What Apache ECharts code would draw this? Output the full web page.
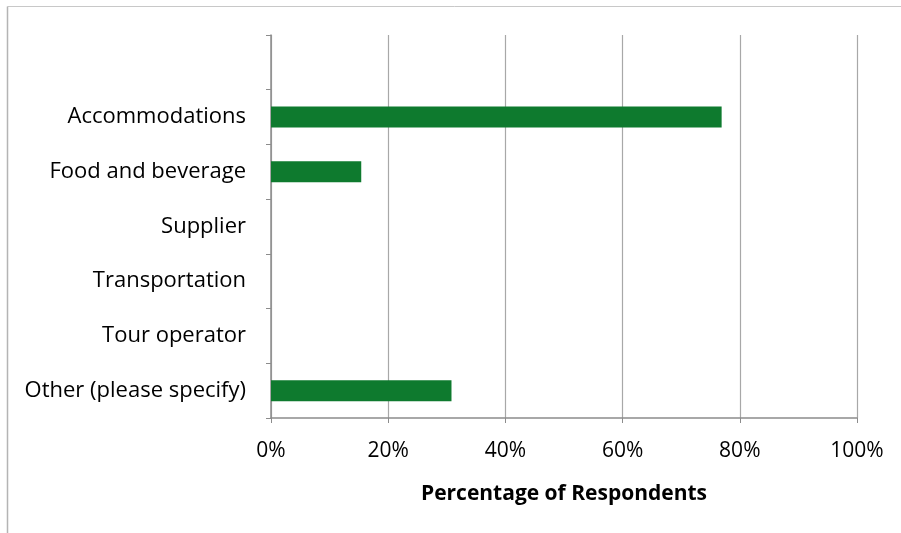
<!DOCTYPE html>
<html>
<head>
<meta charset="utf-8">
<script src="https://cdn.jsdelivr.net/npm/echarts@6/dist/echarts.min.js"></script>
<style>
  html, body { margin: 0; padding: 0; background: #fff; }
  #chart { width: 901px; height: 533px; }
</style>
</head>
<body>
<div id="chart"></div>
<script>
// Business type of respondents (top slot left blank, as in the survey layout)
const categories = ['', 'Accommodations', 'Food and beverage', 'Supplier', 'Transportation', 'Tour operator', 'Other (please specify)'];
const shares = [null, 76.9, 15.4, 0, 0, 0, 30.8];
const xTicks = [0, 20, 40, 60, 80, 100];

const chart = echarts.init(document.getElementById('chart'));
const FONT = 'Open Sans';

chart.setOption({
  animation: false,
  backgroundColor: '#ffffff',
  graphic: [
    { type: 'line', shape: { x1: 7.5, y1: 6.5, x2: 901, y2: 6.5 }, style: { stroke: '#c8c8c8', lineWidth: 1 } },
    { type: 'line', shape: { x1: 7.5, y1: 6.5, x2: 7.5, y2: 533 }, style: { stroke: '#b4b4b4', lineWidth: 1.5 } }
  ],
  grid: { left: 271, right: 44, top: 35, bottom: 115, containLabel: false },
  xAxis: {
    type: 'value',
    min: 0, max: 100, interval: 20,
    name: 'Percentage of Respondents',
    nameLocation: 'middle',
    nameGap: 66,
    nameTextStyle: { fontFamily: FONT, fontSize: 21, fontWeight: 'bold', color: '#000' },
    axisLine: { show: true, lineStyle: { color: '#8c8c8c', width: 1.5 } },
    axisTick: { show: true, length: 5, lineStyle: { color: '#8c8c8c' } },
    axisLabel: {
      fontFamily: FONT, fontSize: 21, color: '#000', margin: 23,
      formatter: v => xTicks.includes(v) ? v + '%' : ''
    },
    splitLine: { show: true, lineStyle: { color: '#a8a8a8', width: 1.2 } }
  },
  yAxis: {
    type: 'category',
    inverse: true,
    data: categories,
    axisLine: { show: true, lineStyle: { color: '#8c8c8c', width: 1.5 } },
    axisTick: { show: true, length: 5, inside: false, lineStyle: { color: '#8c8c8c' } },
    axisLabel: { fontFamily: FONT, fontSize: 22, color: '#000', margin: 25 },
    splitLine: { show: false }
  },
  series: [{
    type: 'bar',
    data: shares,
    barWidth: 21,
    itemStyle: { color: '#0e7a2e', borderWidth: 0 }
  }]
});
</script>
</body>
</html>
